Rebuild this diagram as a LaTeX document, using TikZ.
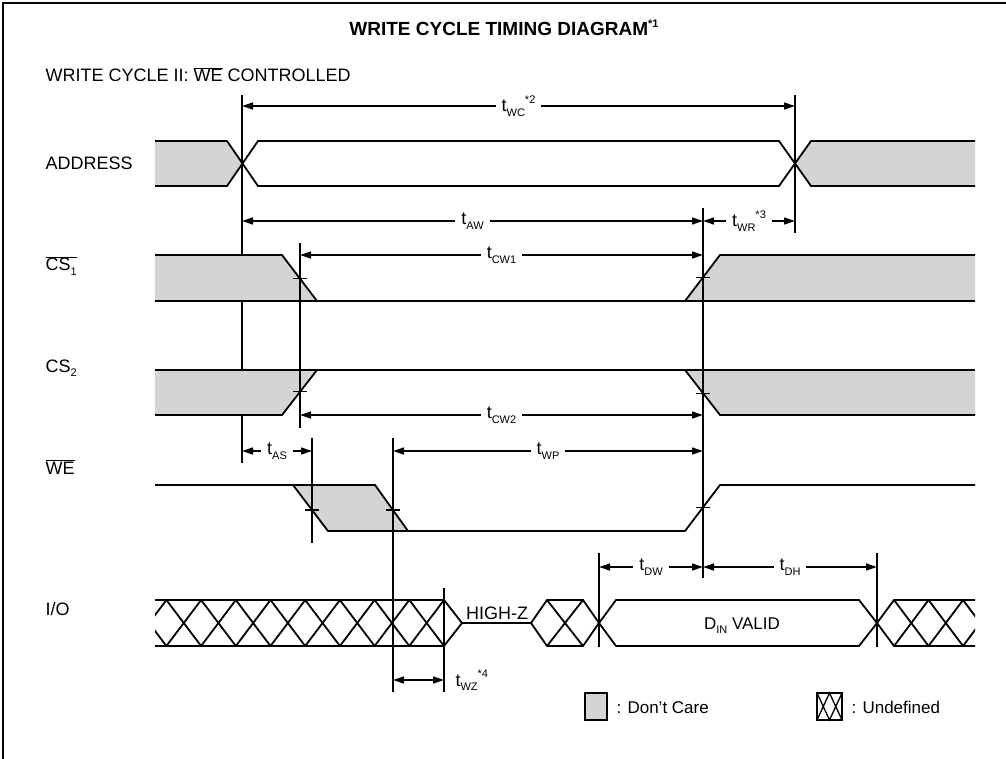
\documentclass[tikz,border=0pt]{standalone}
\usepackage{fontspec}
\setmainfont{Liberation Sans}
\usetikzlibrary{arrows.meta}
\newcommand\ovl[1]{$\overline{\mbox{#1}}$}
\newcommand\lowsub[1]{\raisebox{-0.25em}{\fontsize{11}{12}\selectfont #1}}
\newcommand\hisup[1]{\raisebox{0.45em}{\fontsize{11}{12}\selectfont #1}}
\tikzset{
  sig/.style={line width=1.8pt, line join=miter},
  vline/.style={line width=1.3pt},
  dim/.style={line width=1.3pt, {Triangle[length=11pt,width=7pt]}-{Triangle[length=11pt,width=7pt]}},
  dc/.style={fill=black!17},
  tlbl/.style={fill=white, inner xsep=6pt, inner ysep=1pt},
}
\begin{document}
\begin{tikzpicture}[x=1pt, y=-1pt, font=\fontsize{18}{21}\selectfont]
  \useasboundingbox (0,0) rectangle (1006,759);
  % 外框与标题
  \draw[line width=1.6pt] (3,759) -- (3,3) -- (1006,3);
  \node[anchor=base, font=\bfseries\fontsize{19}{22}\selectfont] (title) at (504,36) {WRITE CYCLE TIMING DIAGRAM\hisup{*1}};
  \node[anchor=base west] (sub) at (42,82) {WRITE CYCLE II: \ovl{WE} CONTROLLED};
  % 信号名
  \node[anchor=base west] (addr) at (42,170) {ADDRESS};
  \node[anchor=base west] (cs1) at (42,271) {\ovl{CS\lowsub{1}}};
  \node[anchor=base west] (cs2) at (42,372) {CS\lowsub{2}};
  \node[anchor=base west] (we) at (42,474) {\ovl{WE}};
  \node[anchor=base west] (io) at (42,615) {I/O};
  % 时刻
  \foreach \n/\x in {A/242,B/300,C/312,D/393,E/444,F/599,G/703,H/795,I/877}
    \coordinate (x\n) at (\x,0);
  \draw[vline] (xA |- 0,95) -- (xA |- 0,463);
  % ADDRESS
  \fill[dc] (155,141) -- (227,141) -- (242,163.5) -- (227,186) -- (155,186) -- cycle;
  \fill[dc] (795,163.5) -- (811,141) -- (975,141) -- (975,186) -- (811,186) -- cycle;
  \draw[sig] (155,141) -- (227,141) -- (258,186) -- (779,186) -- (811,141) -- (975,141);
  \draw[sig] (155,186) -- (227,186) -- (258,141) -- (779,141) -- (811,186) -- (975,186);
  % CS1
  \fill[dc] (155,255) -- (282,255) -- (317,301) -- (155,301) -- cycle;
  \fill[dc] (685,301) -- (720,255) -- (975,255) -- (975,301) -- cycle;
  \draw[sig] (155,255) -- (282,255) -- (317,301);
  \draw[sig] (685,301) -- (720,255) -- (975,255);
  \draw[sig] (155,301) -- (975,301);
  % CS2
  \fill[dc] (155,370) -- (317,370) -- (282,415) -- (155,415) -- cycle;
  \fill[dc] (685,370) -- (720,415) -- (975,415) -- (975,370) -- cycle;
  \draw[sig] (155,370) -- (975,370);
  \draw[sig] (155,415) -- (282,415) -- (317,370);
  \draw[sig] (685,370) -- (720,415) -- (975,415);
  % WE
  \fill[dc] (293,485) -- (375,485) -- (408,531) -- (328,531) -- cycle;
  \draw[sig] (155,485) -- (375,485) -- (408,531);
  \draw[sig] (293,485) -- (328,531) -- (685,531) -- (720,485) -- (975,485);
  % I/O
  \begin{scope}
    \clip (155,590) rectangle (444,656);
    \foreach \k in {0,...,8} {
      \draw[sig] ({444-34.7*\k},600) -- ({444-34.7*(\k+1)},646);
      \draw[sig] ({444-34.7*\k},646) -- ({444-34.7*(\k+1)},600);
    }
  \end{scope}
  \draw[sig] (155,600) -- (444,600) -- (462,623) -- (444,646) -- (155,646);
  \draw[sig] (462,623) -- (531,623);
  \node[anchor=base] (hiz) at (497,619) {HIGH-Z};
  \draw[sig] (531,623) -- (547,600) -- (583,600) -- (599,623) -- (583,646) -- (547,646) -- cycle;
  \draw[sig] (547,600) -- (583,646) (547,646) -- (583,600);
  \draw[sig] (599,623) -- (616,600) -- (859,600) -- (877,623) -- (859,646) -- (616,646) -- cycle;
  \node[anchor=base, font=\fontsize{17}{20}\selectfont] (din) at (742,629) {D\lowsub{IN} VALID};
  \begin{scope}
    \clip (877,590) rectangle (975,656);
    \foreach \k in {0,1,2} {
      \draw[sig] ({894+34.5*\k},600) -- ({894+34.5*(\k+1)},646);
      \draw[sig] ({894+34.5*\k},646) -- ({894+34.5*(\k+1)},600);
    }
  \end{scope}
  \draw[sig] (877,623) -- (894,600) -- (975,600) (877,623) -- (894,646) -- (975,646);
  % 参考线与刻度
  \draw[vline] (xB |- 0,243) -- (xB |- 0,428);
  \draw[vline] (xC |- 0,438) -- (xC |- 0,543);
  \draw[vline] (xD |- 0,438) -- (xD |- 0,692);
  \draw[vline] (xE |- 0,588) -- (xE |- 0,692);
  \draw[vline] (xF |- 0,553) -- (xF |- 0,647);
  \draw[vline] (xG |- 0,208) -- (xG |- 0,578);
  \draw[vline] (xH |- 0,95) -- (xH |- 0,233);
  \draw[vline] (xI |- 0,553) -- (xI |- 0,647);
  \foreach \tx/\ty in {300/278.7,300/391.3,312/510,393/510,703/277.3,703/393.7,703/507.3}
    \draw[vline] (\tx-7,\ty) -- (\tx+7,\ty);
  % 时间参数
  \draw[dim] (xA |- 0,106) -- node[tlbl] {t\lowsub{WC}\hisup{*2}} (xH |- 0,106);
  \draw[dim] (xA |- 0,221) -- node[tlbl] {t\lowsub{AW}} (xG |- 0,221);
  \draw[dim] (xG |- 0,221) -- node[tlbl] {t\lowsub{WR}\hisup{*3}} (xH |- 0,221);
  \draw[dim] (xB |- 0,255) -- node[tlbl] {t\lowsub{CW1}} (xG |- 0,255);
  \draw[dim] (xB |- 0,415) -- node[tlbl] {t\lowsub{CW2}} (xG |- 0,415);
  \draw[dim] (xA |- 0,451) -- node[tlbl] {t\lowsub{AS}} (xC |- 0,451);
  \draw[dim] (xD |- 0,451) -- node[tlbl] {t\lowsub{WP}} (xG |- 0,451);
  \draw[dim] (xF |- 0,567) -- node[tlbl] {t\lowsub{DW}} (xG |- 0,567);
  \draw[dim] (xG |- 0,567) -- node[tlbl] {t\lowsub{DH}} (xI |- 0,567);
  \draw[dim] (xD |- 0,680) -- (xE |- 0,680);
  \node[anchor=base west] (twz) at (452,686) {t\lowsub{WZ}\hisup{*4}};
  % 图例
  \draw[vline, dc] (585,693) rectangle (607,720);
  \node[anchor=base west, font=\fontsize{17}{20}\selectfont] (dctext) at (613,713) {: Don't Care};
  \draw[vline] (817,693) rectangle (842,720);
  \draw[vline] (817,693) -- (829.5,720) -- (842,693) (817,720) -- (829.5,693) -- (842,720);
  \node[anchor=base west, font=\fontsize{17}{20}\selectfont] (udtext) at (848,713) {: Undefined};
\end{tikzpicture}
\end{document}
